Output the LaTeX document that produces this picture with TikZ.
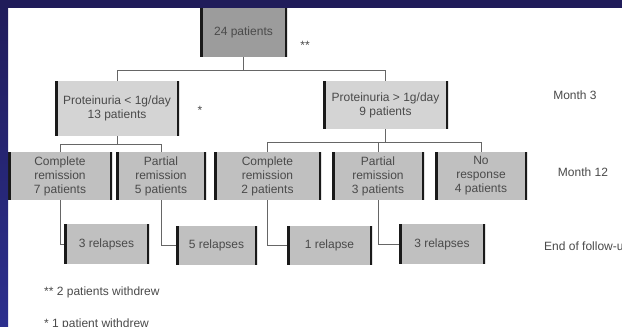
\documentclass[tikz,border=0pt]{standalone}
\usepackage{fontspec}
\setmainfont{Liberation Sans}
\definecolor{bandtop}{HTML}{201C5A}
\definecolor{bandbot}{HTML}{2C2F8E}
\definecolor{txt}{HTML}{4A4A4A}
\definecolor{edgecol}{HTML}{1A1A1A}
\definecolor{lncol}{HTML}{666666}
\definecolor{fdark}{HTML}{9C9C9C}
\definecolor{flight}{HTML}{D4D4D4}
\definecolor{fmid}{HTML}{C0C0C0}
\tikzset{
  edges/.style={path picture={\draw[line width=5pt,edgecol]
      (path picture bounding box.north west) -- (path picture bounding box.south west)
      (path picture bounding box.north east) -- (path picture bounding box.south east);}},
  box/.style={rectangle, inner sep=0pt, align=center, text=txt, edges,
      font=\fontsize{12}{14}\selectfont},
  conn/.style={draw=lncol, line width=1pt},
  lbl/.style={text=txt, inner sep=0pt, font=\fontsize{12}{14}\selectfont}
}
\begin{document}
\begin{tikzpicture}[x=1pt,y=-1pt]
\useasboundingbox (0,0) rectangle (622,327);
\clip (0,0) rectangle (622,327);
\fill[white] (0,0) rectangle (622,327);

% boxes
\node[box, fill=fdark, minimum width=87pt, minimum height=49pt] (top) at (243.5,32.5) {24 patients};
\node[box, fill=flight, minimum width=124pt, minimum height=55pt] (L2a) at (117,108.5) {Proteinuria < 1g/day\\13 patients};
\node[box, fill=flight, minimum width=125pt, minimum height=48pt] (L2b) at (385.5,105) {Proteinuria > 1g/day\\9 patients};
\node[box, fill=fmid, minimum width=104pt, minimum height=48pt] (CR7) at (60,176) {Complete\\remission\\7 patients};
\node[box, fill=fmid, minimum width=90pt, minimum height=48pt] (PR5) at (161,176) {Partial\\remission\\5 patients};
\node[box, fill=fmid, minimum width=107pt, minimum height=48pt] (CR2) at (267.5,176) {Complete\\remission\\2 patients};
\node[box, fill=fmid, minimum width=92pt, minimum height=48pt] (PR3) at (378,176) {Partial\\remission\\3 patients};
\node[box, fill=fmid, minimum width=92pt, minimum height=48pt] (NR4) at (481,176) {No\\response\\4 patients};
\node[box, fill=fmid, minimum width=85pt, minimum height=40pt] (R1) at (106.5,244) {3 relapses};
\node[box, fill=fmid, minimum width=81pt, minimum height=39pt] (R2) at (216.5,245.5) {5 relapses};
\node[box, fill=fmid, minimum width=85pt, minimum height=39pt] (R3) at (329.5,245.5) {1 relapse};
\node[box, fill=fmid, minimum width=86pt, minimum height=40pt] (R4) at (442,244) {3 relapses};

% connectors
\draw[conn] (top.south) -- ++(0,13) coordinate (j1);
\draw[conn] (L2a.north) |- (j1) -| (L2b.north);
\draw[conn] (L2a.south) -- ++(0,8) coordinate (j2);
\draw[conn] (CR7.north) |- (j2) -| (PR5.north);
\draw[conn] (L2b.south) -- ++(0,13) coordinate (j3);
\draw[conn] (CR2.north) |- (j3) -| (NR4.north);
\draw[conn] (PR3.north) -- (PR3.north |- j3);
\draw[conn] (CR7.south) |- (R1.west);
\draw[conn] (PR5.south) |- (R2.west);
\draw[conn] (CR2.south) |- (R3.west);
\draw[conn] (PR3.south) |- (R4.west);

% labels
\node[lbl] (m3) at (575,95) {Month 3};
\node[lbl] (m12) at (583,172) {Month 12};
\node[lbl, anchor=west] (eof) at (544,247) {End of follow-up};
\node[lbl] (st2) at (305,45) {**};
\node[lbl] (st1) at (200,110) {*};
\node[lbl, anchor=west] (fn2) at (44,292) {** 2 patients withdrew};
\node[lbl, anchor=west] (fn1) at (44,324) {* 1 patient withdrew};

% blue border
\shade[top color=bandtop, bottom color=bandbot] (0,0) rectangle (8,327);
\fill[bandtop] (0,0) rectangle (622,8);
\end{tikzpicture}
\end{document}
